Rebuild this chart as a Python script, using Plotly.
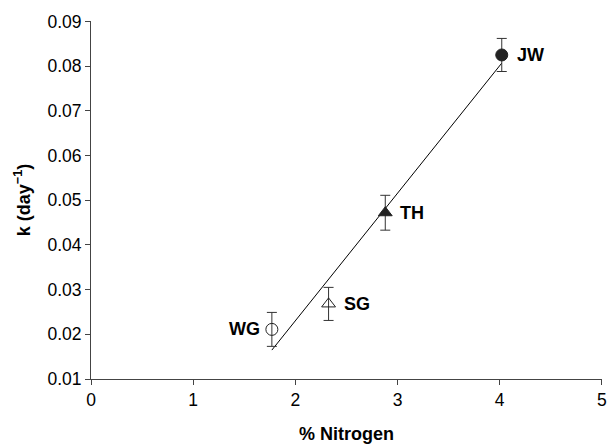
import numpy as np
import plotly.graph_objects as go

labels = ["WG", "SG", "TH", "JW"]
nitrogen = [1.77, 2.325, 2.88, 4.02]
k_values = [0.0211, 0.0268, 0.0472, 0.0825]
k_errors = [0.0038, 0.0037, 0.0039, 0.0037]
symbols = ["circle-open", "triangle-up-open", "triangle-up", "circle"]
label_side = ["left", "right", "right", "right"]

slope, intercept = np.polyfit(nitrogen, k_values, 1)
trend_x = [min(nitrogen), max(nitrogen)]
trend_y = [slope * v + intercept for v in trend_x]

FONT = "Liberation Sans, Arial, Helvetica"

fig = go.Figure()
fig.add_trace(go.Scatter(x=trend_x, y=trend_y, mode="lines",
                         line=dict(color="black", width=1), showlegend=False,
                         hoverinfo="skip"))
for i in range(len(labels)):
    fig.add_trace(go.Scatter(
        x=[nitrogen[i]], y=[k_values[i]], mode="markers",
        marker=dict(symbol=symbols[i], size=12, color="#222222",
                    line=dict(color="#222222", width=1)),
        error_y=dict(type="data", array=[k_errors[i]], color="#333333",
                     thickness=1, width=5),
        showlegend=False))
    fig.add_annotation(x=nitrogen[i], y=k_values[i], text="<b>%s</b>" % labels[i],
                       showarrow=False, xref="x", yref="y",
                       xanchor="right" if label_side[i] == "left" else "left",
                       xshift=-10 if label_side[i] == "left" else 13,
                       font=dict(family=FONT, size=18, color="black"))

axis_common = dict(showline=True, linecolor="#444444", linewidth=1, ticks="outside",
                   ticklen=5, tickcolor="#444444", showgrid=False, zeroline=False,
                   automargin=False,
                   tickfont=dict(family=FONT, size=17.5, color="black"))

fig.update_layout(
    width=609, height=444,
    margin=dict(l=91, r=7, t=21, b=65),
    plot_bgcolor="white", paper_bgcolor="white",
    xaxis=dict(range=[0, 5.001], tickvals=[0, 1, 2, 3, 4, 5],
               ticklabeloverflow="allow",
               title=dict(text="<b>% Nitrogen</b>", standoff=18,
               font=dict(family=FONT, size=18, color="black")),
               **axis_common),
    yaxis=dict(range=[0.01, 0.0901], tickvals=[0.01, 0.02, 0.03, 0.04, 0.05, 0.06, 0.07, 0.08, 0.09],
               tickformat=".2f",
               title=dict(text="<b>k (day<sup>\u22121</sup>)</b>", standoff=12,
               font=dict(family=FONT, size=18, color="black")),
               **axis_common),
)

fig.write_html("out.html", config={"displayModeBar": False},
               post_script="document.body.style.margin='0';document.body.style.overflow='hidden';")
